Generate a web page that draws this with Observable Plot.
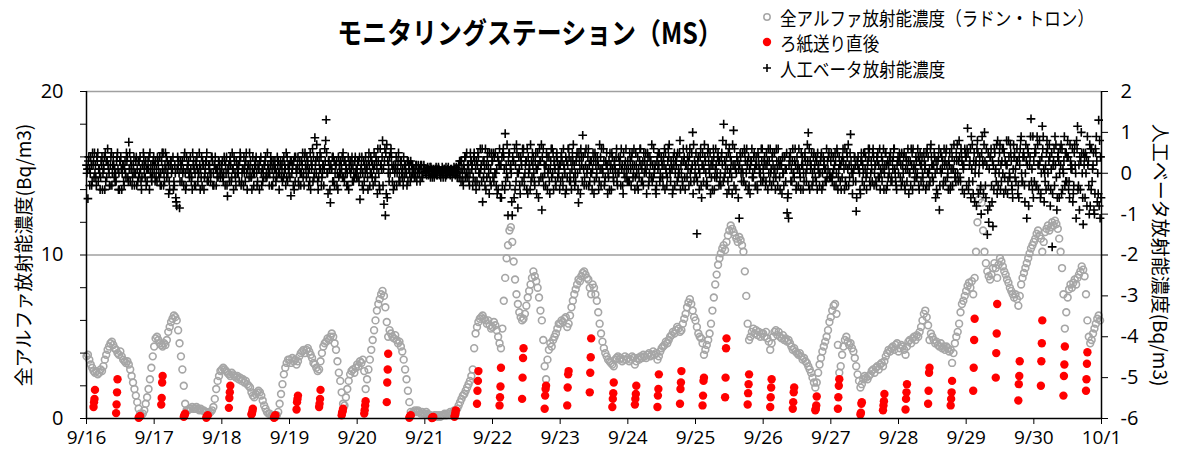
<!DOCTYPE html>
<html><head><meta charset="utf-8">
<script src="https://cdn.jsdelivr.net/npm/d3@7"></script>
<script src="https://cdn.jsdelivr.net/npm/@observablehq/plot@0.6"></script>
<style>
body{margin:0;background:#fff;}
#wrap{position:relative;width:1179px;height:464px;overflow:hidden;font-family:"Noto Sans CJK JP","Noto Sans",sans-serif;color:#000;}
#chart{position:absolute;left:0;top:0;}
.abs{position:absolute;white-space:nowrap;line-height:1;}
#title{left:530px;top:31px;font-size:29px;font-weight:700;transform:translate(-50%,-50%) scaleX(0.86);}
.leg{left:780px;font-size:19px;transform:translateY(-50%) scaleX(0.87);transform-origin:left center;}
.mk{position:absolute;}
#ylab{left:22px;top:255px;font-size:19px;transform:translate(-50%,-50%) rotate(-90deg);}
#y2lab{left:1161px;top:255px;font-size:19px;transform:translate(-50%,-50%) rotate(90deg);}
</style></head>
<body>
<div id="wrap">
  <div id="chart"></div>
  <div id="title" class="abs">モニタリングステーション（MS）</div>
  <svg class="mk" style="left:760px;top:8px" width="16" height="70">
    <circle cx="7" cy="9" r="3.2" fill="none" stroke="#a6a6a6" stroke-width="1.5"/>
    <circle cx="7" cy="34" r="4.2" fill="#ff0000"/>
    <path d="M3,60H11M7,56V64" stroke="#000" stroke-width="1.6"/>
  </svg>
  <div class="abs leg" style="top:17px">全アルファ放射能濃度（ラドン・トロン）</div>
  <div class="abs leg" style="top:42px">ろ紙送り直後</div>
  <div class="abs leg" style="top:68px">人工ベータ放射能濃度</div>
  <div id="ylab" class="abs">全アルファ放射能濃度(Bq/m3)</div>
  <div id="y2lab" class="abs">人工ベータ放射能濃度(Bq/m3)</div>
</div>
<script>
// Day tick labels
const dayLabels = ["9/16","9/17","9/18","9/19","9/20","9/21","9/22","9/23","9/24","9/25","9/26","9/27","9/28","9/29","9/30","10/1"];

// Gross alpha (Bq/m3), one row per day, 30-minute readings
const alphaValues = [
 /*9/16*/ 3.8,3.9,3.6,3.3,3.1,2.9, 2.8,2.9,2.7,2.8,3.0,2.9, 3.2,3.6,3.9,4.2,4.4,4.6, 4.7,4.5,4.3,4.2,4.0,3.9, 4.1,3.8,3.6,3.5,3.4,3.5, 3.3,3.0,2.6,2.2,1.8,1.4, 1.0,0.6,0.3,0.2,0.3,0.5, 0.9,1.3,1.8,2.4,3.1,3.8,
 /*9/17*/ 4.4,4.9,5.0,4.8,4.6,4.5, 4.4,4.6,4.5,4.8,5.3,5.6, 5.9,6.1,6.3,6.2,6.0,5.4, 4.6,3.8,3.0,2.0,0.9,0.5, 0.5,0.6,0.6,0.7,0.6,0.6, 0.7,0.6,0.5,0.6,0.5,0.5, 0.4,0.4,0.3,0.3,0.4,0.5, 0.7,1.2,1.8,2.3,2.6,2.9,
 /*9/18*/ 3.0,3.1,3.0,2.9,2.8,2.7, 2.6,2.8,2.7,2.6,2.5,2.6, 2.4,2.5,2.3,2.4,2.2,2.3, 2.1,2.0,1.9,1.6,1.4,1.3, 1.5,1.6,1.7,1.6,1.4,1.1, 0.8,0.6,0.4,0.3,0.3,0.2, 0.2,0.2,0.1,0.2,0.4,0.9, 1.5,2.1,2.7,3.1,3.4,3.6,
 /*9/19*/ 3.6,3.4,3.7,3.5,3.6,3.3, 3.5,3.8,4.0,4.1,4.2,4.0, 4.2,4.3,4.1,3.9,3.7,3.4, 3.3,3.1,2.9,3.0,3.5,4.0, 4.4,4.6,4.7,4.9,4.8,5.0, 5.2,5.0,4.6,4.2,3.5,2.8, 2.3,1.6,0.9,0.8,1.3,1.8, 2.3,2.7,2.9,3.0,2.8,3.1,
 /*9/20*/ 3.3,3.2,3.5,3.4,3.6,2.9, 1.8,2.4,3.0,3.6,4.2,4.8, 5.4,6.0,6.6,7.0,7.3,7.6, 7.8,7.5,6.8,5.9,5.0,5.4, 5.2,5.0,4.9,5.1,4.8,4.6, 4.7,4.4,4.1,3.6,3.0,2.4, 1.7,1.0,0.4,0.3,0.4,0.5, 0.4,0.5,0.4,0.3,0.4,0.3,
 /*9/21*/ 0.3,0.4,0.3,0.2,0.2,0.1, 0.1,0.2,0.2,0.1,0.2,0.1, 0.2,0.2,0.3,0.2,0.3,0.3, 0.4,0.3,0.4,0.5,0.3,0.6, 0.8,1.0,1.2,1.4,1.5,1.7, 1.9,2.1,2.3,2.6,3.0,4.3, 5.2,5.6,5.9,6.1,6.2,6.3, 6.1,6.0,5.8,6.0,5.7,5.5,
 /*9/22*/ 5.6,5.9,5.7,5.4,5.0,4.6, 4.3,5.5,7.2,8.6,9.8,10.6, 11.5,11.7,10.8,9.6,8.5,7.6, 7.0,6.5,6.2,6.0,6.1,6.4, 6.9,7.4,7.8,8.2,8.6,9.0, 8.7,8.4,8.0,7.4,6.6,6.0, 4.8,3.2,2.4,3.6,4.2,4.6, 4.4,4.8,5.0,5.2,5.5,5.8,
 /*9/23*/ 5.8,6.0,5.9,6.1,6.2,5.6, 5.8,6.3,6.8,7.2,7.6,7.9, 8.2,8.5,8.4,8.7,8.9,9.0, 8.8,8.6,8.5,8.0,7.6,8.2, 8.0,7.6,7.2,6.5,5.8,5.2, 4.7,4.3,4.0,3.8,3.6,3.5, 3.4,3.3,3.2,3.6,3.7,3.8, 3.6,3.7,3.5,3.6,3.8,3.6,
 /*9/24*/ 3.7,3.5,3.6,3.8,3.7,3.3, 3.5,3.7,3.6,3.8,3.7,3.9, 3.8,3.7,3.9,4.0,3.8,3.9, 4.1,3.9,4.0,3.6,3.8,4.1, 4.3,4.4,4.5,4.7,4.6,4.8, 5.0,5.1,5.3,5.2,5.4,5.6, 5.5,5.3,5.4,5.8,6.1,6.4, 6.8,7.1,7.3,7.0,6.6,6.2,
 /*9/25*/ 6.0,5.6,5.2,5.0,4.9,4.6, 3.9,4.2,4.5,4.8,5.2,5.8, 6.6,7.4,8.2,8.8,9.4,9.8, 10.1,10.4,10.6,10.3,10.8,11.2, 11.5,11.8,11.6,11.4,11.2,11.0, 10.8,11.1,10.9,10.6,10.2,9.0, 7.5,5.8,4.8,5.0,5.3,5.5, 5.2,5.4,5.1,5.3,5.0,5.2,
 /*9/26*/ 5.2,5.0,5.3,4.9,4.7,4.2, 4.6,5.0,5.3,5.4,5.1,5.3, 5.0,4.9,5.1,4.8,4.9,4.7, 4.8,4.6,4.4,4.2,4.3,4.1, 4.0,3.9,4.0,3.8,3.6,3.7, 3.5,3.4,3.2,3.0,2.8,2.5, 2.2,1.9,2.2,2.8,3.3,3.7, 4.1,4.4,4.7,5.0,5.4,5.9,
 /*9/27*/ 6.2,6.6,6.9,7.0,6.4,4.5, 2.8,3.2,3.9,4.4,4.8,5.0, 4.7,4.5,4.6,4.3,4.1,3.7, 3.2,2.7,2.3,1.9,2.1,2.4, 2.6,2.5,2.4,2.6,2.7,2.9, 3.0,2.8,3.1,3.2,3.0,3.3, 3.4,3.2,3.5,3.8,4.0,4.2, 4.1,4.3,4.4,4.2,4.5,4.6,
 /*9/28*/ 4.1,4.3,4.5,4.4,4.2,3.9, 4.4,4.7,4.8,4.6,4.9,5.0, 4.8,5.1,5.0,5.3,5.6,6.0, 6.4,6.6,6.2,5.7,4.8,5.2, 5.0,4.8,4.6,4.7,4.5,4.4, 4.6,4.3,4.4,4.2,4.4,4.3, 4.1,4.2,3.4,4.0,4.6,5.0, 5.3,5.8,6.5,7.0,7.2,7.5,
 /*9/29*/ 7.8,8.1,8.3,8.0,8.4,7.6, 8.6,10.2,12.0,13.4,14.0,13.2, 11.5,10.2,9.5,9.0,8.7,8.5, 8.8,9.2,9.5,9.2,8.6,9.4, 9.8,9.6,9.3,9.0,8.8,8.5, 8.3,8.0,7.8,7.6,7.4,7.6, 7.3,6.9,7.5,8.2,8.6,8.9, 9.2,9.5,9.8,10.1,10.4,10.6,
 /*9/30*/ 10.8,11.0,11.3,11.5,11.2,11.0, 10.2,10.8,11.4,11.6,11.8,11.5, 11.7,12.0,11.8,12.1,11.9,11.6, 11.0,10.2,9.2,7.6,5.5,6.5, 7.4,7.9,8.2,8.0,8.3,8.5, 8.2,8.6,8.8,9.0,9.3,9.1, 8.7,7.6,6.0,5.0,4.6,4.8, 5.2,5.5,5.8,6.1,6.3,6.0
];

// Readings right after filter-paper advance (every 8 h, first four 10-min readings)
const filterValues = [
 [0.7,1.0,1.2,1.75],[0.33,0.86,1.6,2.4],[0.05,0.08,0.1,0.15],
 [0.85,1.25,2.2,2.6],[0.1,0.15,0.25,0.3],[0.05,0.1,0.15,0.2],
 [0.65,1.25,1.6,2.0],[0.25,0.3,0.45,0.6],[0.05,0.08,0.15,0.2],
 [0.55,1.0,1.2,1.4],[0.7,0.9,1.2,1.75],[0.2,0.35,0.45,0.6],
 [0.3,0.5,0.8,1.06],[1.0,2.2,3.0,3.96],[0.05,0.1,0.15,0.2],
 [0.03,0.05,0.08,0.1],[0.1,0.2,0.35,0.5],[0.9,1.7,2.3,2.9],
 [0.8,1.3,1.96,3.1],[1.2,2.5,3.7,4.3],[0.6,1.4,1.8,2.0],
 [0.8,1.9,2.7,2.9],[1.6,2.8,3.75,4.9],[0.7,1.2,1.55,2.2],
 [0.85,1.2,1.5,2.0],[0.7,1.4,1.8,2.7],[0.9,1.8,2.2,2.9],
 [0.8,1.4,2.3,2.5],[1.3,2.5,4.3,4.9],[0.86,1.55,2.1,2.7],
 [0.7,1.3,1.9,2.4],[0.6,1.0,1.6,1.9],[0.5,0.6,0.8,1.35],
 [0.6,1.3,2.0,2.4],[0.25,0.35,0.9,1.0],[0.5,0.8,1.06,1.5],
 [0.55,1.2,1.6,2.1],[0.9,1.7,2.8,3.1],[0.8,1.2,1.6,2.3],
 [1.7,3.1,4.8,6.1],[2.5,4.0,5.2,7.0],[1.1,2.1,2.6,3.5],
 [2.0,3.5,4.6,6.0],[1.4,2.6,3.3,4.4],[1.7,2.4,3.35,4.05]
];

// Artificial beta (Bq/m3, right axis): readings at :00/:30
const betaValues = [
 /*9/16*/ 0.2,-0.62,0.1,0.4,-0.2,0.3, 0.0,-0.3,0.5,0.1,-0.1,0.4, 0.2,-0.4,0.3,0.6,0.0,0.2, -0.3,0.4,0.1,-0.2,0.5,0.0, 0.3,-0.4,0.2,0.1,-0.1,0.4, 0.76,-0.2,0.2,0.0,-0.3,0.3, 0.1,-0.1,0.4,-0.4,0.2,0.0, 0.3,-0.2,0.1,0.5,-0.1,0.2,
 /*9/17*/ 0.0,0.3,-0.2,0.2,0.4,-0.3, 0.1,0.0,0.5,-0.1,0.2,-0.4, 0.3,0.1,-0.2,0.0,-0.8,0.2, -0.85,0.1,0.3,-0.3,0.0,0.4, 0.2,-0.1,0.1,-0.4,0.3,0.0, 0.2,-0.2,0.5,0.1,-0.3,0.2, 0.0,0.3,-0.1,0.1,-0.2,0.4, 0.0,0.2,-0.3,0.1,0.3,-0.1,
 /*9/18*/ 0.1,-0.2,0.3,0.0,-0.56,0.2, 0.4,-0.1,0.1,0.3,-0.3,0.0, 0.2,0.5,-0.2,0.1,0.0,0.3, -0.4,0.2,0.1,-0.1,0.4,0.0, 0.2,-0.3,0.1,0.3,0.0,-0.2, 0.2,0.4,-0.1,0.1,0.0,0.3, -0.3,0.2,0.1,-0.1,0.3,0.0, 0.2,-0.2,0.4,0.1,-0.1,0.2,
 /*9/19*/ 0.2,-0.55,0.1,0.3,-0.2,0.0, 0.4,0.1,-0.3,0.2,0.0,0.5, -0.1,0.3,0.1,-0.4,0.2,0.4, 0.87,0.0,-0.2,0.3,0.1,-0.1, 0.2,0.6,1.31,0.0,0.3,-0.72, 0.1,0.4,-0.3,0.2,0.0,-0.1, 0.3,0.1,0.5,-0.2,0.2,0.0, -0.4,0.3,0.1,0.2,-0.1,0.0,
 /*9/20*/ 0.1,0.3,-0.64,0.2,0.0,-0.2, 0.4,0.1,0.3,-0.3,0.0,0.2, 0.5,-0.1,0.1,0.3,-0.4,0.2, 0.8,-0.76,-1.03,0.7,0.0,0.4, 0.6,-0.2,0.2,0.1,-0.3,0.3, 0.0,0.2,-0.1,0.4,0.1,0.0, -0.2,0.2,0.3,0.0,0.1,-0.1, 0.2,0.0,0.1,0.2,-0.1,0.1,
 /*9/21*/ 0.1,0.0,0.15,0.05,-0.1,0.1, 0.0,0.05,0.15,-0.05,0.1,0.0, 0.05,-0.1,0.1,0.15,0.0,0.05, -0.05,0.1,0.0,0.1,0.05,-0.1, 0.2,0.0,0.3,-0.2,0.1,0.4, -0.1,0.2,0.0,0.3,-0.3,0.5, 0.1,-0.2,0.4,0.0,0.2,-0.7, 0.3,0.6,-0.1,0.2,0.5,-0.3,
 /*9/22*/ 0.3,-0.2,0.5,0.1,-0.4,0.6, 0.2,-0.3,0.4,0.97,0.0,-1.03, 0.5,0.2,-1.03,0.3,-0.4,0.7, -0.85,0.1,0.4,-0.2,0.6,0.0, 0.3,-0.5,0.2,0.7,-0.1,0.4, -0.3,0.1,0.5,-0.2,0.3,-0.9, 0.6,0.0,0.2,-0.4,0.4,0.1, -0.1,0.5,0.2,-0.3,0.3,0.0,
 /*9/23*/ 0.2,0.5,-0.3,0.1,0.4,-0.1, 0.6,0.0,-0.4,0.3,0.2,-0.2, 0.5,-0.72,0.1,0.4,0.93,-0.3, 0.2,0.0,0.6,-0.2,0.3,0.1, -0.5,0.4,0.0,0.2,0.7,-0.3, 0.1,0.3,-0.1,0.5,0.0,-0.4, 0.2,0.4,-0.2,0.1,0.6,0.0, 0.3,-0.3,0.2,0.5,-0.1,0.1,
 /*9/24*/ 0.3,-0.2,0.1,0.5,0.0,-0.4, 0.2,0.4,-0.1,0.6,0.1,-0.3, 0.3,0.0,0.5,-0.2,0.2,0.7, -0.1,0.1,-0.5,0.4,0.2,0.0, 0.3,-0.3,0.6,0.1,-0.1,0.4, 0.0,0.2,-0.4,0.5,0.3,-0.2, 0.1,0.8,0.0,-0.3,0.4,0.2, -0.1,0.3,0.6,0.1,1.0,-0.2,
 /*9/25*/ 0.2,-1.48,0.4,0.0,-0.3,0.5, 0.1,0.3,-0.2,0.6,0.0,0.2, -0.4,0.4,0.1,-0.1,0.5,0.3, -0.3,0.2,1.2,0.0,0.4,-0.2, 0.6,0.1,-0.5,1.05,0.2,0.0, 0.3,-1.1,0.4,0.1,-0.2,0.5, 0.0,0.3,-0.3,0.2,0.6,-0.1, 0.1,0.4,-0.4,0.2,0.0,0.3,
 /*9/26*/ 0.1,0.4,-0.2,0.3,0.0,0.6, -0.3,0.2,0.5,-0.1,0.1,0.3, -0.4,0.2,0.0,0.4,-0.2,-0.97, -1.1,0.3,0.1,0.6,-0.1,0.2, 0.4,-0.3,0.0,0.5,0.2,-0.2, 0.3,0.1,0.99,-0.4,0.2,0.0, 0.5,-0.1,0.3,0.1,-0.3,0.4, 0.0,0.2,-0.2,0.6,0.1,-0.1,
 /*9/27*/ 0.3,-0.2,0.1,0.5,0.0,-0.4, 0.4,0.2,-0.1,0.3,0.6,-0.3, 0.1,0.2,0.95,0.0,-0.2,0.4, -0.93,0.2,0.1,-0.5,0.3,0.0, 0.5,-0.1,0.2,0.4,-0.3,0.1, 0.6,0.0,-0.2,0.3,0.2,-0.4, 0.4,0.1,0.0,0.5,-0.3,0.2, 0.3,-0.1,0.1,0.6,-0.2,0.2,
 /*9/28*/ 0.0,0.4,-0.3,0.2,0.5,0.1, -0.2,0.3,0.0,0.6,-0.4,0.2, 0.1,-0.1,0.4,0.3,-0.2,0.0, 0.5,0.2,-0.3,0.4,0.1,0.7, -0.1,0.2,0.0,-0.4,0.3,-0.9, 0.5,0.1,-0.2,0.3,0.6,0.0, 0.2,-0.3,0.4,0.1,-0.1,0.5, 0.0,0.8,-0.2,0.3,0.1,0.6,
 /*9/29*/ 0.4,1.1,-0.2,0.6,0.1,-0.5, -0.7,0.3,0.8,0.0,-0.4,0.5, 0.2,1.0,-0.6,-1.5,-1.2,0.4, -0.3,-1.3,0.6,0.1,-0.5,0.3, 0.7,-0.2,0.0,0.5,-0.4,0.2, 0.8,-0.1,0.3,-0.6,0.4,0.1, 0.6,-0.3,0.2,0.9,-0.2,0.4, 0.0,-1.1,0.5,0.2,1.33,-0.4,
 /*9/30*/ 0.3,0.6,-0.3,0.2,0.8,-0.5, 1.15,0.1,-0.2,0.5,0.0,0.7, -0.4,-1.8,0.3,0.9,-0.1,0.4, -0.6,0.2,0.6,0.0,-0.3,0.5, 0.8,-0.2,0.3,0.1,-0.5,0.7, -1.1,1.15,0.2,-0.4,0.5,-1.25, 0.4,0.0,0.9,-0.3,-0.8,0.6, 0.2,-1.0,0.5,-0.7,1.3,-1.1
];
// Artificial beta readings at :10/:40
const betaValues2 = [
 /*9/16*/ 0.0,0.3,-0.3,0.2,0.5,-0.1, 0.2,0.4,-0.2,0.0,0.3,-0.4, 0.1,0.5,-0.1,0.2,-0.3,0.4, 0.0,0.2,-0.2,0.3,0.1,-0.4, 0.4,0.0,-0.2,0.3,0.5,-0.1, 0.1,0.3,-0.3,0.2,0.0,0.4, -0.2,0.3,0.1,-0.1,0.5,0.2, -0.3,0.1,0.4,0.0,-0.2,0.3,
 /*9/17*/ 0.2,-0.1,0.4,0.0,-0.3,0.3, 0.5,-0.2,0.1,0.3,-0.5,0.2, 0.0,0.4,-0.3,-0.6,0.1,0.3, -0.2,0.2,0.0,0.4,-0.4,0.1, 0.3,0.0,-0.2,0.5,0.1,-0.3, 0.4,0.0,0.2,-0.1,0.3,-0.4, 0.1,0.5,-0.2,0.2,0.0,0.3, -0.3,0.4,0.1,-0.1,0.2,0.0,
 /*9/18*/ 0.3,0.0,-0.3,0.4,0.1,-0.2, 0.2,0.5,-0.4,0.0,0.3,0.1, -0.2,0.4,0.0,-0.3,0.2,0.5, 0.1,-0.1,0.3,-0.4,0.0,0.2, 0.4,-0.2,0.1,0.3,-0.3,0.0, 0.2,-0.1,0.5,0.0,0.2,-0.3, 0.3,0.1,-0.2,0.4,0.0,0.2, -0.1,0.3,0.0,-0.3,0.4,0.1,
 /*9/19*/ -0.1,0.3,0.2,-0.4,0.4,0.1, -0.2,0.3,0.0,0.5,-0.3,0.2, 0.4,0.0,-0.2,0.3,0.6,-0.1, 0.2,0.7,-0.4,0.1,0.4,0.0, -0.3,0.3,0.5,-0.5,0.1,0.2, 0.4,-0.2,0.0,0.3,-0.4,0.2, 0.0,0.4,-0.1,0.3,0.1,-0.3, 0.2,0.0,0.4,-0.2,0.3,0.1,
 /*9/20*/ 0.3,-0.2,0.0,0.4,-0.4,0.2, 0.1,-0.1,0.5,0.0,0.3,-0.3, 0.2,0.4,-0.5,0.0,0.6,0.1, -0.3,0.3,0.5,-0.6,0.2,0.0, 0.4,0.1,-0.3,0.2,0.0,0.5, -0.2,0.3,0.1,-0.1,0.2,-0.3, 0.3,0.0,-0.1,0.2,0.1,0.0, -0.2,0.2,0.0,0.1,-0.1,0.2,
 /*9/21*/ 0.05,-0.05,0.1,0.0,0.15,-0.1, 0.1,0.0,-0.05,0.1,0.05,-0.1, 0.15,0.0,0.05,-0.05,0.1,0.0, 0.1,-0.1,0.05,0.0,0.15,0.0, -0.1,0.3,0.1,-0.3,0.4,0.0, 0.2,-0.2,0.5,0.1,-0.1,0.3, -0.4,0.2,0.0,0.6,-0.2,0.3, 0.1,-0.4,0.4,0.0,-0.2,0.5,
 /*9/22*/ -0.1,0.4,0.0,-0.5,0.3,0.2, -0.6,0.5,0.1,-0.2,0.7,0.3, -0.3,0.0,0.4,-0.6,0.2,0.5, 0.0,-0.3,0.3,0.6,-0.1,0.2, -0.4,0.4,0.1,-0.2,0.5,0.0, 0.3,-0.5,0.2,0.6,-0.1,0.4, -0.3,0.2,0.5,0.0,-0.2,0.3, 0.6,-0.4,0.1,0.4,-0.1,0.2,
 /*9/23*/ -0.2,0.3,0.6,0.0,-0.4,0.2, 0.4,-0.2,0.1,0.7,-0.3,0.3, 0.0,0.5,-0.5,0.2,0.4,-0.1, 0.6,0.1,-0.3,0.3,0.0,0.5, -0.2,0.2,0.4,-0.4,0.1,0.6, 0.0,-0.3,0.3,0.2,-0.1,0.5, -0.4,0.1,0.3,0.0,-0.2,0.4, 0.2,0.6,-0.3,0.0,0.3,-0.1,
 /*9/24*/ 0.1,0.5,-0.3,0.2,0.6,-0.1, 0.0,-0.4,0.3,0.2,-0.2,0.5, 0.1,-0.5,0.4,0.0,0.3,-0.2, 0.6,0.2,-0.3,0.1,0.5,-0.1, 0.2,0.4,-0.4,0.0,0.3,0.7, -0.2,0.1,0.4,-0.3,0.2,0.5, 0.0,-0.4,0.3,0.6,-0.1,0.2, 0.4,-0.3,0.0,0.5,-0.5,0.3,
 /*9/25*/ 0.5,-0.2,0.1,0.4,-0.6,0.2, 0.7,0.0,-0.3,0.3,0.5,-0.1, 0.2,-0.4,0.6,0.0,0.3,-0.2, 0.4,0.8,-0.1,0.2,-0.5,0.5, 0.0,0.3,0.7,-0.3,0.1,0.4, -0.6,0.2,0.0,0.5,-0.2,0.3, 0.6,-0.4,0.1,0.3,-0.1,0.4, -0.3,0.2,0.5,0.0,-0.2,0.6,
 /*9/26*/ -0.1,0.2,0.5,-0.4,0.3,0.0, 0.4,-0.2,0.1,0.6,-0.3,0.2, 0.3,-0.5,0.0,0.4,0.1,-0.6, 0.2,0.5,-0.2,0.0,0.3,-0.4, 0.1,0.6,-0.1,0.2,-0.4,0.4, 0.0,0.7,-0.3,0.3,0.5,-0.2, 0.1,0.4,-0.4,0.2,0.0,0.5, -0.3,0.3,0.1,-0.1,0.4,0.0,
 /*9/27*/ 0.5,0.0,-0.3,0.3,0.6,-0.1, 0.2,-0.4,0.4,0.1,-0.2,0.5, 0.7,-0.1,0.3,-0.5,0.1,0.2, -0.6,0.4,0.0,0.3,-0.2,0.5, 0.1,-0.4,0.3,0.6,0.0,-0.2, 0.4,0.2,-0.3,0.5,-0.1,0.1, -0.2,0.6,0.2,-0.4,0.3,0.0, 0.5,-0.2,0.4,0.1,-0.3,0.3,
 /*9/28*/ 0.3,-0.1,0.5,0.0,-0.3,0.4, 0.1,-0.5,0.3,0.2,0.6,-0.2, 0.4,0.0,-0.3,0.5,0.2,-0.1, 0.3,-0.4,0.6,0.0,-0.2,0.4, 0.2,0.5,-0.6,0.1,0.4,-0.3, 0.0,0.3,0.6,-0.2,0.2,-0.4, 0.5,0.1,-0.3,0.7,0.0,0.3, -0.2,0.4,0.6,-0.4,0.2,0.5,
 /*9/29*/ -0.3,0.5,0.2,-0.6,0.7,0.3, 0.0,-0.8,0.5,0.2,-0.3,0.9, -0.5,0.3,0.6,-0.9,0.1,0.4, -0.7,0.2,0.5,-0.2,0.8,0.0, -0.4,0.3,0.6,-0.1,0.2,-0.5, 0.4,0.7,-0.3,0.1,0.5,-0.2, 0.3,-0.6,0.6,0.0,0.4,-0.3, 0.7,0.2,-0.8,0.4,-0.2,0.9,
 /*9/30*/ -0.2,0.5,0.9,-0.4,0.3,0.0, 0.6,-0.7,0.2,0.8,-0.3,0.4, 0.1,-0.5,0.6,0.2,-0.9,0.5, 0.0,0.7,-0.4,0.3,0.5,-0.2, 0.4,-0.6,0.1,0.6,-0.3,0.2, 0.8,-0.4,-0.9,0.3,0.0,0.5, -0.6,0.4,0.2,-1.0,0.6,-0.2, 0.5,-0.5,0.9,0.0,-0.8,0.4
];
// Artificial beta readings at :20/:50
const betaValues3 = [
 /*9/16*/ 0.1,0.4,0.0,-0.3,0.2,0.5, -0.1,0.3,0.1,-0.4,0.2,0.0, 0.4,-0.2,0.3,0.1,-0.3,0.5, 0.2,-0.1,0.0,0.4,-0.4,0.3, 0.1,0.2,-0.3,0.0,0.3,-0.2, 0.5,0.1,-0.1,0.4,0.0,-0.3, 0.3,0.0,-0.2,0.2,0.4,-0.1, 0.1,0.3,-0.4,0.2,0.0,0.4,
 /*9/17*/ -0.2,0.1,0.3,-0.1,0.0,0.5, -0.3,0.2,0.4,0.0,-0.2,0.3, 0.1,-0.4,0.2,-0.7,0.4,0.0, 0.3,-0.2,0.1,0.5,-0.3,0.2, 0.0,0.4,-0.1,0.2,-0.3,0.3, 0.1,0.0,-0.4,0.4,0.2,-0.1, 0.3,-0.2,0.2,0.0,0.4,-0.3, 0.2,0.1,-0.1,0.3,0.0,0.2,
 /*9/18*/ -0.1,0.4,0.2,-0.3,0.0,0.3, -0.2,0.1,0.4,-0.1,0.2,0.0, 0.3,-0.3,0.1,0.4,-0.2,0.0, 0.2,0.5,-0.1,0.1,-0.3,0.3, 0.0,0.2,-0.4,0.4,0.1,-0.1, 0.3,0.0,0.2,-0.3,0.4,0.1, -0.1,0.3,0.0,0.2,-0.4,0.3, 0.1,-0.1,0.2,0.5,-0.2,0.0,
 /*9/19*/ 0.3,0.0,-0.3,0.4,0.1,0.2, -0.3,0.0,0.3,-0.1,0.4,0.1, 0.2,-0.3,0.5,0.1,-0.2,0.0, 0.3,0.4,-0.1,0.5,-0.3,0.2, 0.1,0.8,0.0,0.3,-0.4,0.1, -0.2,0.3,0.2,-0.3,0.4,0.0, 0.2,-0.1,0.3,0.0,-0.3,0.4, 0.1,0.3,-0.2,0.0,0.4,-0.1,
 /*9/20*/ -0.1,0.4,0.1,-0.3,0.3,0.0, 0.2,-0.4,0.2,0.4,-0.1,0.1, -0.2,0.3,0.6,-0.3,0.2,0.4, 0.1,0.6,-0.5,0.3,-0.2,0.5, 0.2,-0.4,0.0,0.4,0.1,-0.2, 0.3,0.0,-0.3,0.2,0.0,0.3, 0.1,-0.2,0.2,0.0,-0.1,0.2, 0.0,0.1,-0.2,0.2,0.0,0.1,
 /*9/21*/ 0.0,0.1,-0.05,0.15,0.0,0.05, -0.1,0.1,0.0,0.15,-0.05,0.05, 0.0,0.1,-0.1,0.05,0.15,0.0, 0.05,0.0,0.15,-0.05,0.0,0.1, 0.3,-0.2,0.0,0.2,-0.1,0.5, 0.0,-0.3,0.3,0.2,0.4,-0.2, 0.3,0.5,-0.3,0.1,0.6,-0.1, -0.3,0.2,0.5,-0.5,0.1,0.3,
 /*9/22*/ 0.5,0.0,-0.3,0.4,0.2,-0.6, 0.4,0.6,-0.4,0.2,-0.1,0.5, 0.1,-0.7,0.3,0.6,-0.2,0.0, 0.4,-0.5,0.2,0.5,-0.3,0.3, 0.6,0.0,-0.4,0.3,0.2,-0.2, 0.5,0.1,-0.6,0.3,0.7,-0.1, 0.2,-0.3,0.4,0.1,-0.5,0.6, 0.0,0.3,-0.2,0.5,0.1,-0.4,
 /*9/23*/ 0.4,-0.1,0.2,-0.5,0.3,0.6, -0.2,0.3,0.5,-0.1,0.0,0.4, -0.4,0.3,0.6,-0.2,0.1,0.5, -0.3,0.4,0.2,0.0,-0.4,0.3, 0.5,-0.1,0.3,-0.2,0.4,0.1, 0.6,-0.2,0.2,-0.5,0.3,0.1, 0.5,-0.1,0.2,0.4,-0.3,0.0, 0.4,0.1,-0.5,0.2,0.6,-0.2,
 /*9/24*/ -0.2,0.3,0.4,-0.1,0.2,0.5, -0.3,0.1,0.6,-0.2,0.3,0.0, 0.5,0.2,-0.3,0.4,-0.1,0.2, 0.0,-0.4,0.3,0.5,-0.2,0.4, -0.1,0.2,0.5,-0.3,0.6,0.1, 0.3,-0.5,0.2,0.0,0.4,-0.1, 0.5,0.2,-0.2,0.3,-0.4,0.6, 0.1,0.4,-0.2,0.2,0.7,0.0,
 /*9/25*/ -0.1,0.3,-0.4,0.6,0.2,-0.2, 0.4,-0.3,0.5,0.1,-0.5,0.3, 0.6,-0.1,0.2,0.4,-0.3,0.0, 0.5,-0.2,0.3,0.7,0.1,-0.4, 0.4,-0.1,0.2,0.6,-0.4,0.3, 0.1,0.5,-0.2,0.0,0.6,-0.3, 0.2,0.4,-0.5,0.3,0.0,0.5, 0.2,-0.3,0.4,0.1,0.6,-0.2,
 /*9/26*/ 0.3,-0.3,0.2,0.6,-0.2,0.1, 0.5,0.0,-0.4,0.3,0.6,-0.1, 0.2,0.4,-0.3,0.1,0.5,-0.5, 0.4,-0.2,0.3,0.0,0.6,-0.3, 0.2,0.1,-0.4,0.4,0.0,0.5, -0.2,0.3,0.6,0.1,-0.3,0.4, 0.2,-0.2,0.5,0.0,0.3,-0.4, 0.4,0.1,-0.2,0.3,0.5,-0.1,
 /*9/27*/ -0.1,0.4,0.2,-0.3,0.5,0.1, -0.2,0.3,0.6,-0.4,0.2,0.4, -0.3,0.5,0.1,0.0,0.4,-0.2, 0.3,0.1,-0.4,0.5,0.2,-0.3, 0.4,0.0,0.6,-0.2,0.3,0.5, -0.3,0.2,0.4,-0.1,0.6,0.0, 0.3,-0.4,0.5,0.2,-0.1,0.4, -0.2,0.3,0.6,0.0,-0.4,0.4,
 /*9/28*/ 0.5,0.2,-0.2,0.4,-0.4,0.3, 0.6,0.0,-0.3,0.5,0.1,-0.1, 0.3,0.6,-0.4,0.2,0.4,-0.3, 0.1,0.5,0.0,-0.3,0.6,0.2, -0.2,0.4,0.3,-0.5,0.6,0.1, 0.4,-0.3,0.2,0.5,-0.1,0.3, -0.4,0.6,0.1,0.3,-0.2,0.7, 0.3,-0.1,0.5,0.2,-0.5,0.4,
 /*9/29*/ 0.6,-0.4,0.3,0.9,-0.2,0.5, 0.2,0.6,-0.5,0.4,-1.0,0.3, 0.7,-0.3,0.2,0.5,-0.8,0.6, 0.3,-0.4,0.0,0.7,-0.3,0.5, 0.2,0.6,-0.5,0.3,0.8,-0.2, 0.0,0.5,-0.4,0.7,-0.1,0.3, -0.5,0.4,0.8,-0.2,0.5,-0.7, 0.3,0.6,-0.3,0.9,0.1,-0.6,
 /*9/30*/ 0.5,-0.3,0.7,0.2,-0.6,0.4, 0.9,0.0,-0.4,0.6,0.3,-0.8, 0.5,0.2,-0.3,0.7,-0.6,0.3, 0.6,-0.5,0.1,0.9,-0.2,0.4, -0.4,0.7,0.2,-0.7,0.5,0.0, 0.6,-0.3,0.4,1.0,-0.6,0.2, 0.5,-0.8,0.3,0.7,-0.4,0.1, -0.9,0.6,0.3,-0.5,0.8,-0.6
];

const leftTicks = [0,2,4,6,8,10,12,14,16,18,20];
const rightTicks = [-6,-5,-4,-3,-2,-1,0,1,2];

// ---- build tables ----
const T0 = Date.UTC(2013, 8, 16);
const MIN = 60000, HOUR = 60 * MIN, DAY = 24 * HOUR;
const alpha = alphaValues.map((v, i) => ({t: new Date(T0 + i * 30 * MIN), v}));
const beta = [betaValues, betaValues2, betaValues3].flatMap((arr, o) =>
  arr.map((v, i) => ({t: new Date(T0 + i * 30 * MIN + o * 10 * MIN), v})));
const filt = filterValues.flatMap((g, k) => g.map((v, j) => ({t: new Date(T0 + k * 8 * HOUR + 150 * MIN + j * 10 * MIN), v})));
const days = dayLabels.map((s, i) => new Date(T0 + i * DAY));
const xDom = [days[0], days[days.length - 1]];
const toLeft = v => (v + 6) * 2.5; // right axis -6..2 onto left 0..20
const fmtDay = d => dayLabels[Math.round((d - T0) / DAY)];

const chart = Plot.plot({
  width: 1179, height: 464,
  marginLeft: 86, marginRight: 78, marginTop: 91, marginBottom: 46,
  x: {type: "utc", domain: xDom},
  y: {domain: [0, 20]},
  style: {fontFamily: "'Open Sans', sans-serif", fontSize: "18px", color: "#000", background: "transparent", overflow: "visible"},
  marks: [
    Plot.ruleY([10, 20], {stroke: "#a0a0a0", strokeWidth: 1.3}),
    Plot.dot(alpha, {x: "t", y: "v", r: 3.4, stroke: "#a6a6a6", strokeWidth: 1.6, fill: "none"}),
    Plot.dot(filt, {x: "t", y: "v", r: 4.2, fill: "#ff0000", stroke: "none"}),
    Plot.dot(beta, {x: "t", y: d => toLeft(d.v), symbol: "plus", r: 2.9, stroke: "#000", strokeWidth: 1.6}),
    Plot.ruleX([xDom[0], xDom[1]], {stroke: "#000", strokeWidth: 1.5}),
    Plot.ruleY([0], {stroke: "#000", strokeWidth: 1.5}),
    Plot.axisY({anchor: "left", ticks: leftTicks, tickSize: 6, tickPadding: 17, label: null,
      tickFormat: d => (d % 10 === 0 ? String(d) : ""), fontSize: 20}),
    Plot.axisY({anchor: "right", ticks: rightTicks.map(toLeft), tickSize: 6, tickPadding: 13, label: null,
      tickFormat: d => String(Math.round(d / 2.5 - 6)), fontSize: 20}),
    Plot.axisX({ticks: days, tickFormat: fmtDay, tickSize: 6, tickPadding: 6, label: null, fontSize: 19})
  ]
});
document.getElementById("chart").appendChild(chart);
</script>
</body></html>
